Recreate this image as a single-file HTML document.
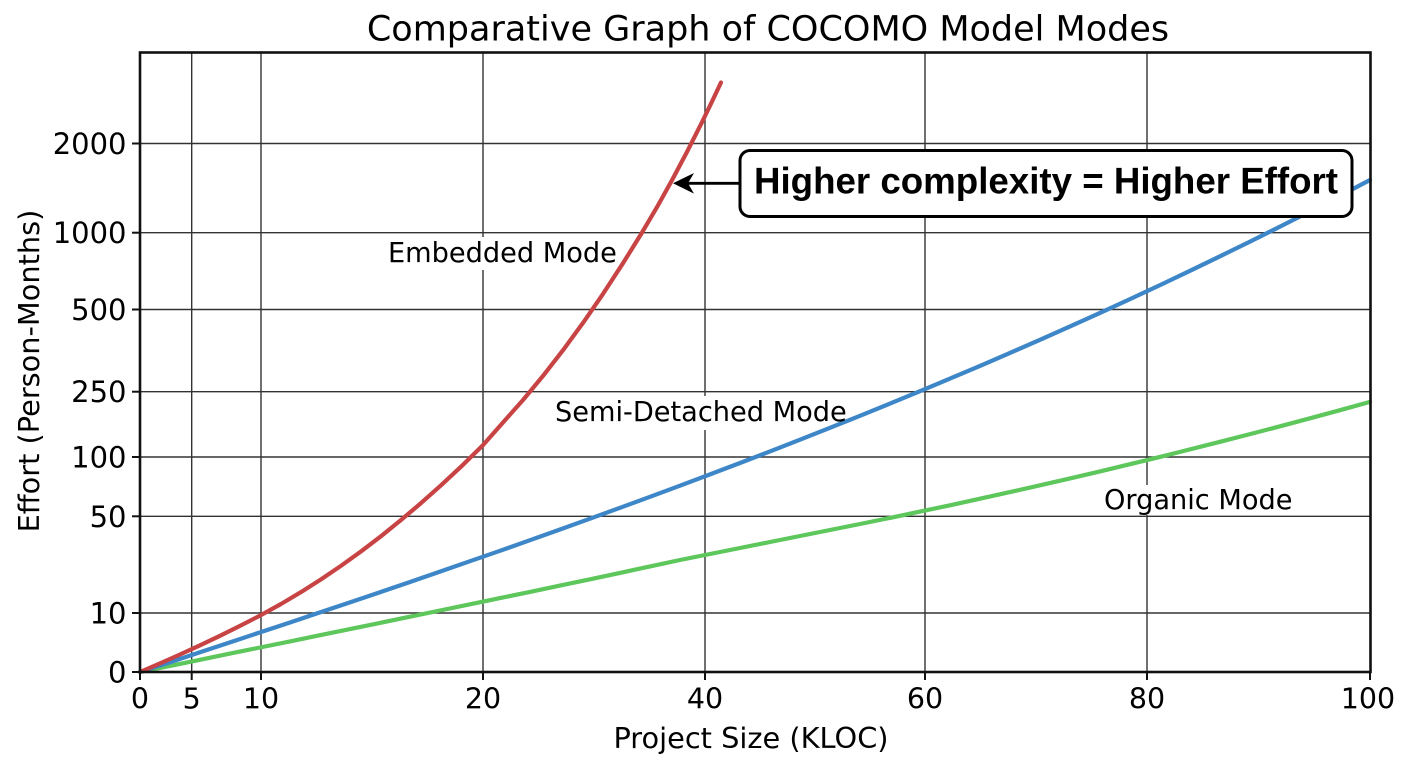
<!DOCTYPE html>
<html>
<head>
<meta charset="utf-8">
<style>
  html, body { margin:0; padding:0; background:#ffffff; }
  svg { display:block; }
  text { font-family: "DejaVu Sans", "Liberation Sans", sans-serif; fill:#000; }
</style>
</head>
<body>
<svg width="1408" height="768" viewBox="0 0 1408 768" xmlns="http://www.w3.org/2000/svg">
  <rect x="0" y="0" width="1408" height="768" fill="#ffffff"/>

  <!-- Title -->
  <text x="768" y="40.5" font-size="35" text-anchor="middle">Comparative Graph of COCOMO Model Modes</text>

  <!-- Grid lines -->
  <g stroke="#333333" stroke-width="1.4">
    <line x1="191.7" y1="52.5" x2="191.7" y2="672"/>
    <line x1="261" y1="52.5" x2="261" y2="672"/>
    <line x1="483" y1="52.5" x2="483" y2="672"/>
    <line x1="705" y1="52.5" x2="705" y2="672"/>
    <line x1="925" y1="52.5" x2="925" y2="672"/>
    <line x1="1147" y1="52.5" x2="1147" y2="672"/>
    <line x1="140" y1="143.5" x2="1370" y2="143.5"/>
    <line x1="140" y1="232.7" x2="1370" y2="232.7"/>
    <line x1="140" y1="309.5" x2="1370" y2="309.5"/>
    <line x1="140" y1="391.7" x2="1370" y2="391.7"/>
    <line x1="140" y1="457" x2="1370" y2="457"/>
    <line x1="140" y1="516.3" x2="1370" y2="516.3"/>
    <line x1="140" y1="613" x2="1370" y2="613"/>
  </g>

  <!-- Label backgrounds (hide grid behind labels) -->
  <g fill="#ffffff">
    <rect x="385" y="237" width="234" height="33"/>
    <rect x="551" y="396" width="298" height="34"/>
    <rect x="1100" y="485" width="196" height="30"/>
  </g>

  <!-- Curves -->
  <g fill="none" stroke-width="4.2" stroke-linejoin="round" stroke-linecap="round">
    <polyline stroke="#5dc75b" points="140,672 170,665.9 200,659.8 230,653.6 260,647.5 290,641.4 320,635.2 350,629.1 380,622.9 410,616.7 440,610.5 470,604.3 500,598.1 530,591.9 560,585.6 590,579.3 620,572.9 650,566.4 680,560 710,554 740,548 770,542 800,536 830,530 860,524 890,517.9 920,511.6 950,505.3 980,498.7 1010,492.1 1040,485.3 1070,478.4 1100,471.4 1130,464.2 1160,456.9 1190,449.4 1220,441.8 1250,434.1 1280,426.3 1310,418.3 1340,410.2 1370,401.9"/>
    <polyline stroke="#3d86c8" points="140,672 170,662.2 200,652.3 230,642.4 260,632.4 290,622.5 320,612.4 350,602.4 380,592.2 410,582 440,571.6 470,561.2 500,550.8 530,540.2 560,529.5 590,518.7 620,507.8 650,496.8 680,485.7 710,474.4 740,463 770,451.4 800,439.7 830,427.8 860,415.8 890,403.6 920,391.2 950,378.6 980,365.9 1010,352.9 1040,339.8 1070,326.4 1100,312.9 1130,299.1 1160,285.1 1190,270.8 1220,256.3 1250,241.6 1280,226.6 1310,211.4 1340,195.8 1370,180"/>
    <polyline stroke="#c84444" points="140,672 160,663.4 180,654.5 200,645.3 220,635.8 240,625.9 261,615.1 281,604 301,592.1 321,579.4 341,565.8 361,551.4 381,536.2 401,520 421,503.1 441,485.3 461,466.7 483,445.1 503,422.5 523,400 543,375.9 563,350.2 583,322.9 603,293.9 623,263.2 642,232.6 657,207.1 672,180.2 687,151.9 702,122.2 712,101.6 721,82.5"/>
  </g>

  <!-- Mode labels -->
  <text x="388" y="262" font-size="27.2">Embedded Mode</text>
  <text x="555" y="421" font-size="27.2">Semi-Detached Mode</text>
  <text x="1104" y="509" font-size="27.2">Organic Mode</text>

  <!-- Spines -->
  <rect x="140" y="52.5" width="1230.5" height="619.5" fill="none" stroke="#111111" stroke-width="2.6"/>

  <!-- Tick marks -->
  <g stroke="#111111" stroke-width="2">
    <line x1="132" y1="143.5" x2="140" y2="143.5"/>
    <line x1="132" y1="232.7" x2="140" y2="232.7"/>
    <line x1="132" y1="309.5" x2="140" y2="309.5"/>
    <line x1="132" y1="391.7" x2="140" y2="391.7"/>
    <line x1="132" y1="457" x2="140" y2="457"/>
    <line x1="132" y1="516.3" x2="140" y2="516.3"/>
    <line x1="132" y1="613" x2="140" y2="613"/>
    <line x1="132" y1="672" x2="140" y2="672"/>
    <line x1="140" y1="672" x2="140" y2="680"/>
    <line x1="191.7" y1="672" x2="191.7" y2="680"/>
    <line x1="261" y1="672" x2="261" y2="680"/>
    <line x1="483" y1="672" x2="483" y2="680"/>
    <line x1="705" y1="672" x2="705" y2="680"/>
    <line x1="925" y1="672" x2="925" y2="680"/>
    <line x1="1147" y1="672" x2="1147" y2="680"/>
    <line x1="1370" y1="672" x2="1370" y2="680"/>
  </g>

  <!-- Y tick labels -->
  <g font-size="29" text-anchor="end">
    <text x="126.5" y="154">2000</text>
    <text x="126.5" y="243.2">1000</text>
    <text x="126.5" y="320">500</text>
    <text x="126.5" y="402.2">250</text>
    <text x="126.5" y="467.5">100</text>
    <text x="126.5" y="526.8">50</text>
    <text x="126.5" y="623.5">10</text>
    <text x="126.5" y="682.5">0</text>
  </g>

  <!-- X tick labels -->
  <g font-size="28.5" text-anchor="middle">
    <text x="140" y="708.5">0</text>
    <text x="191.7" y="708.5">5</text>
    <text x="261" y="708.5">10</text>
    <text x="483" y="708.5">20</text>
    <text x="705" y="708.5">40</text>
    <text x="925" y="708.5">60</text>
    <text x="1147" y="708.5">80</text>
    <text x="1368" y="708.5">100</text>
  </g>

  <!-- Axis labels -->
  <text x="751" y="748" font-size="28.8" text-anchor="middle">Project Size (KLOC)</text>
  <text transform="translate(39,371) rotate(-90)" font-size="28.8" text-anchor="middle">Effort (Person-Months)</text>

  <!-- Annotation arrow -->
  <line x1="688" y1="183.3" x2="740" y2="183.3" stroke="#000" stroke-width="2.8"/>
  <polygon points="673,183.3 694,173 688,183.3 694,193.6" fill="#000"/>

  <!-- Annotation box -->
  <rect x="740" y="150.5" width="612" height="66" rx="10" ry="10" fill="#ffffff" stroke="#000" stroke-width="3"/>
  <text x="1046" y="193.3" font-size="36.7" font-weight="bold" text-anchor="middle" style="font-family:'Liberation Sans', Arial, sans-serif;">Higher complexity = Higher Effort</text>
</svg>
</body>
</html>
